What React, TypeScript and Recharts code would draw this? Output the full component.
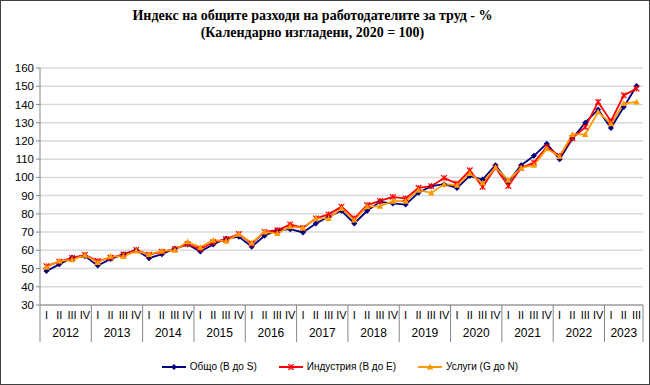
import React from 'react';
import { LineChart, Line, XAxis, YAxis, CartesianGrid, Legend } from 'recharts';

const YEARS = [
  '2012', '2012', '2012', '2012', '2013', '2013', '2013', '2013',
  '2014', '2014', '2014', '2014', '2015', '2015', '2015', '2015',
  '2016', '2016', '2016', '2016', '2017', '2017', '2017', '2017',
  '2018', '2018', '2018', '2018', '2019', '2019', '2019', '2019',
  '2020', '2020', '2020', '2020', '2021', '2021', '2021', '2021',
  '2022', '2022', '2022', '2022', '2023', '2023', '2023',
];
const QUARTERS = [
  'I', 'II', 'III', 'IV', 'I', 'II', 'III', 'IV', 'I', 'II', 'III', 'IV',
  'I', 'II', 'III', 'IV', 'I', 'II', 'III', 'IV', 'I', 'II', 'III', 'IV',
  'I', 'II', 'III', 'IV', 'I', 'II', 'III', 'IV', 'I', 'II', 'III', 'IV',
  'I', 'II', 'III', 'IV', 'I', 'II', 'III', 'IV', 'I', 'II', 'III',
];

// Общо (B до S)
const TOTAL = [
  48.6, 52.3, 56.0, 56.8, 51.6, 55.2, 57.9, 60.2,
  55.7, 57.9, 61.0, 63.2, 59.3, 63.2, 66.5, 67.4,
  62.0, 68.0, 71.0, 71.6, 69.8, 74.7, 78.4, 81.7,
  74.7, 81.7, 86.6, 85.7, 85.1, 91.6, 95.2, 96.3,
  94.2, 100.8, 98.8, 106.7, 97.5, 106.7, 111.8, 118.5,
  110.0, 121.3, 130.0, 137.3, 127.1, 138.6, 150.1,
];
// Индустрия (B до E)
const INDUSTRY = [
  51.3, 53.8, 55.8, 57.5, 54.1, 55.9, 57.7, 60.2,
  57.6, 59.2, 60.6, 63.4, 60.7, 64.4, 66.2, 68.9,
  63.6, 70.1, 71.0, 74.2, 72.3, 77.5, 79.7, 83.9,
  77.5, 84.8, 87.1, 89.3, 88.4, 94.3, 95.2, 99.7,
  96.6, 103.9, 94.8, 105.4, 95.3, 105.2, 108.1, 116.7,
  111.8, 121.6, 127.6, 141.4, 130.8, 145.0, 148.7,
];
// Услуги (G до N)
const SERVICES = [
  50.8, 54.1, 54.8, 57.3, 53.4, 56.7, 56.7, 59.6,
  57.8, 59.7, 60.1, 64.7, 61.6, 65.6, 65.0, 68.9,
  64.1, 70.1, 69.3, 72.9, 72.3, 77.5, 77.5, 83.0,
  76.6, 83.9, 84.2, 87.0, 87.0, 93.0, 91.5, 96.3,
  95.7, 102.1, 97.0, 105.4, 98.5, 105.2, 106.7, 115.8,
  111.5, 123.6, 123.6, 135.9, 129.5, 140.5, 141.4,
];

const Y_TICKS = [30, 40, 50, 60, 70, 80, 90, 100, 110, 120, 130, 140, 150, 160];

const W = 650;
const H = 385;
const MARGIN = { top: 68, right: 7, bottom: 40, left: 0 };
const Y_AXIS_W = 40;
const PLOT_W = W - MARGIN.left - MARGIN.right - Y_AXIS_W;
const BAND = PLOT_W / QUARTERS.length;
const HALF = BAND / 2;

const NAVY = '#000080';
const RED = '#ff0000';
const ORANGE = '#ff9900';
const AXIS = '#868686';
const FONT = "'Liberation Sans', Arial, sans-serif";

const data = QUARTERS.map((q, i) => ({
  key: `${YEARS[i]}-${q}`,
  total: TOTAL[i],
  industry: INDUSTRY[i],
  services: SERVICES[i],
}));

function DiamondDot({ cx, cy, color, r = 3 }: any) {
  if (cx == null || cy == null) return null;
  return <path d={`M${cx},${cy - r}L${cx + r},${cy}L${cx},${cy + r}L${cx - r},${cy}Z`} fill={color} />;
}

function StarDot({ cx, cy, color, r = 2.8 }: any) {
  if (cx == null || cy == null) return null;
  return (
    <g stroke={color} strokeWidth={1.2}>
      <line x1={cx - r} y1={cy - r} x2={cx + r} y2={cy + r} />
      <line x1={cx - r} y1={cy + r} x2={cx + r} y2={cy - r} />
      <line x1={cx} y1={cy - r} x2={cx} y2={cy + r} />
    </g>
  );
}

function TriangleDot({ cx, cy, color, r = 3.2 }: any) {
  if (cx == null || cy == null) return null;
  return <path d={`M${cx},${cy - r}L${cx + r},${cy + r * 0.8}L${cx - r},${cy + r * 0.8}Z`} fill={color} />;
}

function QuarterTick(props: any) {
  const { x, y, index } = props;
  const year = YEARS[index];
  const isFirst = index === 0 || YEARS[index - 1] !== year;
  const isLast = index === YEARS.length - 1;
  const count = YEARS.filter((yy) => yy === year).length;
  return (
    <g>
      <text x={x} y={y + 14} textAnchor="middle" fontSize={11} fontFamily={FONT} fill="#000">
        {QUARTERS[index]}
      </text>
      {isFirst && (
        <>
          <line x1={x - HALF} x2={x - HALF} y1={y} y2={y + 37} stroke={AXIS} />
          <text x={x + ((count - 1) / 2) * BAND} y={y + 32} textAnchor="middle" fontSize={12} fontFamily={FONT} fill="#000">
            {year}
          </text>
        </>
      )}
      {isLast && <line x1={x + HALF} x2={x + HALF} y1={y} y2={y + 37} stroke={AXIS} />}
    </g>
  );
}

const LEGEND_ITEMS = [
  { label: 'Общо (B до S)', color: NAVY, Dot: DiamondDot },
  { label: 'Индустрия (B до E)', color: RED, Dot: StarDot },
  { label: 'Услуги (G до N)', color: ORANGE, Dot: TriangleDot },
];

function LegendContent() {
  return (
    <div style={{ display: 'flex', justifyContent: 'center', gap: 22, fontFamily: FONT, fontSize: 10 }}>
      {LEGEND_ITEMS.map(({ label, color, Dot }) => (
        <div key={label} style={{ display: 'flex', alignItems: 'center' }}>
          <svg width={24} height={10} style={{ marginRight: 4 }}>
            <line x1={0} x2={24} y1={5} y2={5} stroke={color} strokeWidth={2} />
            <Dot cx={12} cy={5} color={color} />
          </svg>
          <span>{label}</span>
        </div>
      ))}
    </div>
  );
}

export default function App() {
  return (
    <div style={{ position: 'absolute', left: 0, top: 0, width: W, height: H, background: '#fff' }}>
      <div
        style={{
          position: 'absolute',
          top: 7,
          left: 0,
          width: 625,
          textAlign: 'center',
          fontFamily: "'Liberation Serif', 'Times New Roman', serif",
          fontWeight: 'bold',
          fontSize: 14,
          lineHeight: '17px',
          color: '#000',
        }}
      >
        <div>Индекс на общите разходи на работодателите за труд - %</div>
        <div>(Календарно изгладени, 2020 = 100)</div>
      </div>
      <div style={{ position: 'absolute', left: 0, top: 0 }}>
        <LineChart width={W} height={H} data={data} margin={MARGIN}>
          <CartesianGrid vertical={false} stroke="#d9d9d9" strokeWidth={1.5} />
          <XAxis
            dataKey="key"
            interval={0}
            padding={{ left: HALF, right: HALF }}
            tickSize={0}
            tickMargin={0}
            tickLine={false}
            height={40}
            axisLine={{ stroke: AXIS }}
            tick={<QuarterTick />}
          />
          <YAxis
            width={Y_AXIS_W}
            domain={[30, 160]}
            ticks={Y_TICKS}
            interval={0}
            tickSize={4}
            tickMargin={2}
            axisLine={{ stroke: AXIS }}
            tickLine={{ stroke: AXIS }}
            tick={{ fontSize: 11.5, fontFamily: FONT, fill: '#000' }}
          />
          <Legend
            verticalAlign="middle"
            align="center"
            wrapperStyle={{ top: 361, left: 30, width: 620 }}
            content={<LegendContent />}
          />
          <Line
            dataKey="total"
            stroke={NAVY}
            strokeWidth={1.8}
            isAnimationActive={false}
            dot={(p: any) => <DiamondDot key={p.index} cx={p.cx} cy={p.cy} color={NAVY} />}
            activeDot={false}
          />
          <Line
            dataKey="industry"
            stroke={RED}
            strokeWidth={1.8}
            isAnimationActive={false}
            dot={(p: any) => <StarDot key={p.index} cx={p.cx} cy={p.cy} color={RED} />}
            activeDot={false}
          />
          <Line
            dataKey="services"
            stroke={ORANGE}
            strokeWidth={1.8}
            isAnimationActive={false}
            dot={(p: any) => <TriangleDot key={p.index} cx={p.cx} cy={p.cy} color={ORANGE} />}
            activeDot={false}
          />
        </LineChart>
      </div>
      <div
        style={{
          position: 'absolute',
          left: 0,
          top: 0,
          width: W - 2,
          height: H - 2,
          border: '1px solid #404040',
          pointerEvents: 'none',
        }}
      />
    </div>
  );
}
